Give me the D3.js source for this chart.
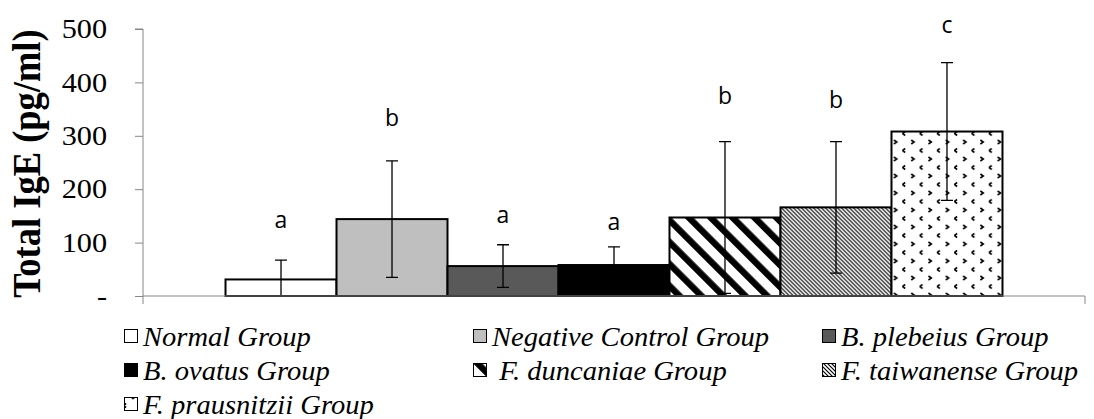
<!DOCTYPE html>
<html><head><meta charset="utf-8">
<script src="https://cdn.jsdelivr.net/npm/d3@7"></script>
<style>
html,body{margin:0;padding:0;background:#fff;}
svg{display:block;}
text{white-space:pre;}
</style></head>
<body>
<svg id="chart" width="1094" height="419"></svg>
<script>
// ---- data ----
const groups = ["Normal Group", "Negative Control Group", "B. plebeius Group", "B. ovatus Group", "F. duncaniae Group", "F. taiwanense Group", "F. prausnitzii Group"];
const legendLabels = ["Normal Group", "Negative Control Group", "B. plebeius Group", "B. ovatus Group", " F. duncaniae Group", "F. taiwanense Group", "F. prausnitzii Group"];
const values = [31, 144, 56, 58, 147, 166, 308];
const errors = [36, 109, 40, 34, 142, 123, 129];
const letters = ["a", "b", "a", "a", "b", "b", "c"];
const letterPos = [127, 318, 137, 124, 360, 352, 492];
const yTicks = [0, 100, 200, 300, 400, 500];
const yTickLabels = ["-", "100", "200", "300", "400", "500"];
const category = ["Total IgE"];
const yTitle = "Total IgE (pg/ml)";

// ---- layout ----
const svg = d3.select("#chart");
const plot = {left: 143, right: 1085, top: 29, bottom: 296};
const axisColor = "#868686";
const serif = "Liberation Serif, Times New Roman, serif";

const defs = svg.append("defs");
// wide downward diagonal
const p1 = defs.append("pattern").attr("id","pDunc").attr("patternUnits","userSpaceOnUse")
  .attr("width",15.5).attr("height",15.5).attr("patternTransform","rotate(-45)");
p1.append("rect").attr("width",15.5).attr("height",15.5).attr("fill","#fff");
p1.append("rect").attr("width",6.5).attr("height",15.5).attr("fill","#000");
// dark downward diagonal (fine)
const p2 = defs.append("pattern").attr("id","pTaiw").attr("patternUnits","userSpaceOnUse")
  .attr("width",4).attr("height",4);
p2.append("rect").attr("width",4).attr("height",4).attr("fill","#fff");
p2.append("path").attr("d","M-1,-1 L5,5 M-1,3 L1,5 M3,-1 L5,1").attr("stroke","#000").attr("stroke-width",1.15);
// divot pattern
const p3 = defs.append("pattern").attr("id","pPraus").attr("patternUnits","userSpaceOnUse")
  .attr("width",17.3).attr("height",17).attr("x",2).attr("y",3);
p3.append("rect").attr("width",17.3).attr("height",17).attr("fill","#fff");
p3.append("path").attr("d","M9,1 L11.8,3 L9,5").attr("stroke","#000").attr("stroke-width",1.6).attr("fill","none");
p3.append("path").attr("d","M3,9.5 L0.2,11.5 L3,13.5").attr("stroke","#000").attr("stroke-width",1.6).attr("fill","none");

const fills = ["#ffffff", "#bfbfbf", "#595959", "#000000", "url(#pDunc)", "url(#pTaiw)", "url(#pPraus)"];

const y = d3.scaleLinear().domain([0, 500]).range([plot.bottom, plot.top]);
const x0 = d3.scaleBand().domain(category).range([plot.left, plot.right]).paddingInner(0).paddingOuter(0.1062);
const x1 = d3.scaleBand().domain(groups).range([0, x0.bandwidth()]);

// y axis
const yAxis = d3.axisLeft(y).tickValues(yTicks).tickSize(8).tickFormat("");
const gy = svg.append("g").attr("transform",`translate(${plot.left},0)`).call(yAxis);
gy.select(".domain").attr("stroke",axisColor).attr("d",`M-8,${plot.top}H0V${plot.bottom}`);
gy.selectAll(".tick line").attr("stroke",axisColor);

// tick labels
svg.append("g").selectAll("text").data(yTicks).join("text")
  .attr("transform", d => `translate(107,${y(d)}) scale(1.08,1)`)
  .attr("dy","0.33em").attr("text-anchor","end")
  .attr("font-family",serif).attr("font-size",28)
  .attr("fill","#000").text((d,i) => yTickLabels[i]);

// axis title
svg.append("text")
  .attr("transform", `translate(40,${(plot.top+plot.bottom)/2 + 1}) scale(1.1,1) rotate(-90)`)
  .attr("text-anchor","middle")
  .attr("font-family",serif).attr("font-weight","bold").attr("font-size",36.5)
  .attr("fill","#000").text(yTitle);

// bars
const gBars = svg.append("g").attr("transform",`translate(${x0(category[0])},0)`);
gBars.selectAll("rect").data(groups).join("rect")
  .attr("x", d => x1(d)).attr("width", x1.bandwidth())
  .attr("y", (d,i) => y(values[i])).attr("height", (d,i) => y(0) - y(values[i]))
  .attr("fill", (d,i) => fills[i]).attr("stroke","#000").attr("stroke-width",2);

// x axis
const gx = svg.append("g");
gx.append("path").attr("d",`M${plot.left},${y(0)}H${plot.right}V${y(0)+8}`).attr("stroke",axisColor).attr("fill","none");
gx.append("path").attr("d",`M${plot.left},${y(0)}V${y(0)+8}`).attr("stroke",axisColor).attr("fill","none");

// error bars
const gErr = gBars.append("g").attr("stroke","#000").attr("stroke-width",1.3).attr("fill","none");
groups.forEach((g,i) => {
  const cx = x1(g) + x1.bandwidth()/2;
  const lo = y(Math.max(0, values[i]-errors[i])), hi = y(values[i]+errors[i]);
  gErr.append("path").attr("d",`M${cx},${lo}V${hi}M${cx-6},${hi}H${cx+6}M${cx-6},${lo}H${cx+6}`);
});

// significance letters
gBars.selectAll("text.sig").data(groups).join("text").attr("class","sig")
  .attr("x", d => x1(d) + x1.bandwidth()/2).attr("y", (d,i) => y(letterPos[i]))
  .attr("text-anchor","middle").attr("font-family","Open Sans, sans-serif").attr("font-size",23)
  .attr("fill","#000").text((d,i) => letters[i]);

// legend
const legX = [124, 473, 822];
const legY = [329, 363, 397];
const gLeg = svg.append("g");
legendLabels.forEach((lab,i) => {
  const cx = legX[i % 3], cy = legY[Math.floor(i/3)];
  gLeg.append("rect").attr("x",cx+0.5).attr("y",cy+0.5).attr("width",13).attr("height",13)
    .attr("fill",fills[i]).attr("stroke","#000").attr("stroke-width",1);
  gLeg.append("text").attr("transform",`translate(${cx+19},${cy+16.5}) scale(1.02,1)`)
    .attr("font-family",serif).attr("font-style","italic").attr("font-size",28)
    .attr("fill","#000").text(lab);
});
</script>
</body></html>
